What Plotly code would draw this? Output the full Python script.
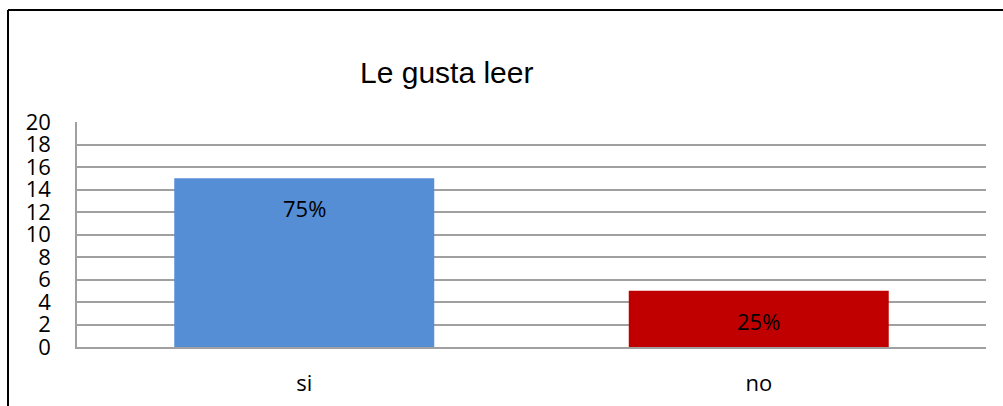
import plotly.graph_objects as go

categories = ["si", "no"]
values = [15, 5]
labels = ["75%", "25%"]
bar_colors = ["#558ED5", "#C00000"]
y_ticks = list(range(0, 21, 2))

FONT = "Open Sans, Noto Sans, sans-serif"
TITLE_FONT = "Liberation Sans, Arial, sans-serif"

fig = go.Figure()
fig.add_trace(go.Bar(
    x=categories,
    y=values,
    marker=dict(color=bar_colors, line=dict(width=0)),
    hoverinfo="skip",
))

# data labels, a little below the top of each bar
for cat, val, lab in zip(categories, values, labels):
    fig.add_annotation(
        x=cat, y=val, text=lab, showarrow=False,
        yanchor="middle", yshift=-30,
        font=dict(family=FONT, size=22, color="black"),
    )

# title, offset to the left like the original
fig.add_annotation(
    xref="paper", yref="paper", x=0.407, y=1.222,
    xanchor="center", yanchor="middle",
    text="Le gusta leer", showarrow=False,
    font=dict(family=TITLE_FONT, size=30, color="black"),
)

# outer frame (left and top edges only show)
fig.add_shape(type="line", xref="paper", yref="paper",
              x0=-0.0759, x1=-0.0759, y0=1.4978, y1=-0.3,
              line=dict(color="black", width=2))
fig.add_shape(type="line", xref="paper", yref="paper",
              x0=-0.0759, x1=1.03, y0=1.4978, y1=1.4978,
              line=dict(color="black", width=2))

fig.update_layout(
    width=1003, height=406,
    margin=dict(l=77, r=17, t=122, b=59),
    paper_bgcolor="white", plot_bgcolor="white",
    bargap=0.428,
    showlegend=False,
    font=dict(family=FONT, size=22, color="black"),
)
fig.update_yaxes(
    range=[0, 20], tickvals=y_ticks, automargin=False,
    showgrid=True, gridcolor="#A0A0A0", gridwidth=1.5,
    showline=True, linecolor="#A0A0A0", linewidth=1.5,
    zeroline=False, ticks="", ticklabelstandoff=20,
    tickfont=dict(family=FONT, size=22, color="black"),
    fixedrange=True,
)
fig.update_xaxes(
    showline=True, linecolor="#A0A0A0", linewidth=1.5,
    automargin=False,
    ticks="", ticklabelstandoff=16,
    tickfont=dict(family=FONT, size=22, color="black"),
    fixedrange=True,
)

fig.write_html("out.html", config={"displayModeBar": False},
               post_script="document.body.style.margin='0';")
